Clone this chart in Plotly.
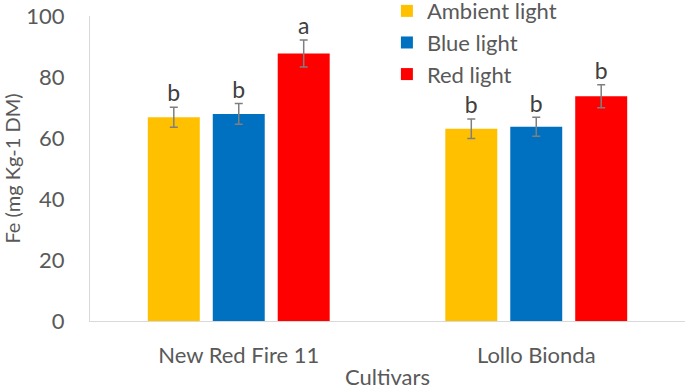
import plotly.graph_objects as go

cultivars = ["New Red Fire 11", "Lollo Bionda"]
series_names = ["Ambient light", "Blue light", "Red light"]
ambient = [66.8, 63.0]
blue = [67.9, 63.7]
red = [87.7, 73.7]
ambient_err = [3.3, 3.2]
blue_err = [3.4, 3.1]
red_err = [4.4, 3.8]
ambient_letters = ["b", "b"]
blue_letters = ["b", "b"]
red_letters = ["a", "b"]

colors = ["#FFC000", "#0070C0", "#FF0000"]
values = [ambient, blue, red]
errs = [ambient_err, blue_err, red_err]
letters = [ambient_letters, blue_letters, red_letters]

FONT = "Lato, Open Sans, sans-serif"
GRAY = "#595959"

fig = go.Figure()
for i, name in enumerate(series_names):
    fig.add_trace(go.Bar(
        x=cultivars, y=values[i], name=name,
        marker=dict(color=colors[i], line=dict(width=0)),
        error_y=dict(type="data", array=errs[i], color="#7F7F7F", thickness=1.5, width=4),
        offsetgroup=str(i), legendgroup=str(i),
    ))
for i, name in enumerate(series_names):
    fig.add_trace(go.Scatter(
        x=cultivars, y=[v + e for v, e in zip(values[i], errs[i])],
        mode="text", text=letters[i], textposition="top center",
        textfont=dict(family=FONT, size=23, color="#404040"),
        offsetgroup=str(i), showlegend=False, hoverinfo="skip", cliponaxis=False,
    ))

fig.update_layout(
    width=685, height=390,
    margin=dict(l=90, r=0, t=16, b=69, autoexpand=False),
    paper_bgcolor="white", plot_bgcolor="white",
    barmode="group", bargap=0.345, bargroupgap=0.2,
    scattermode="group", scattergap=0.345,
    font=dict(family=FONT, size=22, color=GRAY),
    showlegend=True,
    legend=dict(x=0.499, y=1.085, xanchor="left", yanchor="top",
                font=dict(family=FONT, size=22, color=GRAY),
                tracegroupgap=0, traceorder="grouped", bgcolor="rgba(0,0,0,0)"),
    xaxis=dict(showline=True, linecolor="#D9D9D9", linewidth=1, ticks="",
               automargin=False,
               title=dict(text="Cultivars", font=dict(size=22, color=GRAY), standoff=4),
               tickfont=dict(size=22, color=GRAY), ticklabelstandoff=15),
    yaxis=dict(range=[0, 100], dtick=20, showgrid=False, zeroline=False,
               showline=True, linecolor="#D9D9D9", linewidth=1, ticks="",
               automargin=False,
               title=dict(text="Fe (mg Kg-1 DM)", font=dict(size=20, color=GRAY), standoff=14),
               tickfont=dict(size=22, color=GRAY), ticklabelstandoff=20),
)

fig.write_html("out.html", config={"displayModeBar": False},
               post_script="document.body.style.margin='0';")
